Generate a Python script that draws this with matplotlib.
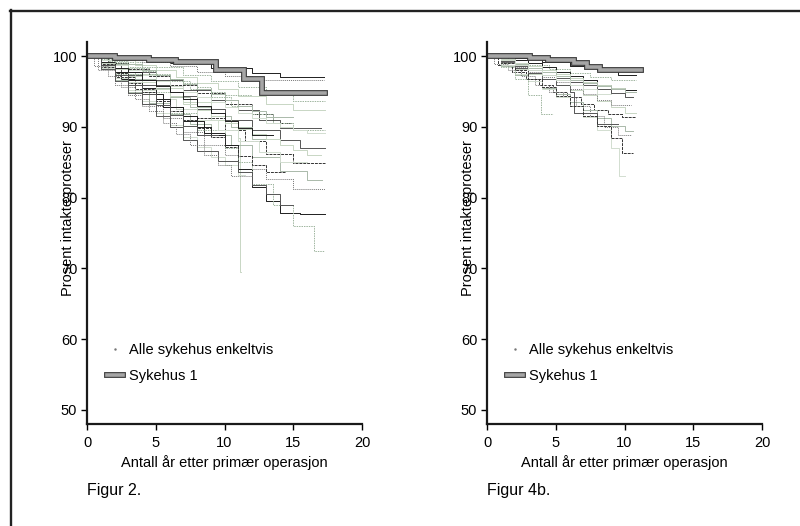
import matplotlib.pyplot as plt
import matplotlib.patheffects as pe
from matplotlib.lines import Line2D

plt.rcParams['font.family'] = ['Liberation Sans', 'DejaVu Sans']

# Figur 2: alle sykehus enkeltvis (start-tider for hvert trinn, overlevelse, slutt-tid)
left_times = [
    [0, 3, 6, 9, 12, 14],
    [0, 2, 4, 7, 9, 11, 13, 15],
    [0, 1.5, 3, 5, 7, 9, 11, 12.5, 14],
    [0, 1.5, 3, 5, 7, 9, 11, 11.1],
    [0, 1, 2, 3.5, 5, 6.5, 8, 10, 11.5, 13, 15],
    [0, 1, 2, 3, 4.5, 6, 7.5, 9, 10.5, 12, 14, 16],
    [0, 0.8, 2, 3, 4, 5.5, 7, 8.5, 10, 11, 13, 15],
    [0, 1, 2, 3, 4, 5, 6, 7, 8, 9, 10, 11],
    [0, 1, 2.5, 4, 5.5, 7, 8.5, 10, 11, 12, 13, 14, 15.5],
    [0, 1, 2, 4, 6, 8, 10, 11, 12, 13.5, 15, 16.5],
    [0, 1, 2.5, 4, 6, 8, 10, 12, 14, 15.5],
    [0, 2, 3.5, 5, 6.5, 8, 9.5, 11, 13, 15],
    [0, 1.5, 3, 4.5, 6, 8, 10, 12, 13.5],
    [0, 1, 2, 3.5, 5, 6, 7.5, 9, 10.5, 12],
    [0, 2, 4, 6, 8, 10, 12],
    [0, 1, 2, 3, 4, 5, 6.5, 8, 9.5, 11, 12.5, 14],
    [0, 1, 2, 3, 4, 5, 6, 7, 8, 9, 10],
    [0, 1.5, 3, 4.5, 6, 7.5, 9, 10.5, 12, 13.5, 15],
    [0, 1, 2, 3, 4, 5, 6, 7, 8, 9.5, 11, 12, 13, 14],
    [0, 1, 2, 3, 4, 5, 6, 7, 8, 9, 10, 11, 12, 13, 14, 15, 16],
    [0, 1, 2, 3, 4, 5, 6, 7, 8, 9, 10, 11, 12, 13],
    [0, 1, 2, 4, 5, 6, 7, 8, 9, 10, 11, 12, 13],
    [0, 0.5, 1.5, 2.5, 3.5, 4.5, 5.5, 6.5, 7.5, 8.5, 9.5, 10.5],
    [0, 1, 2, 3, 4, 5, 6, 7, 8, 9, 10, 11, 12, 13, 14, 15, 16],
    [0, 1, 2, 3, 4, 5, 6, 7, 8, 9, 10, 11, 12],
    [0, 1, 2, 3, 4, 5, 6, 7, 8, 9, 10],
    [0, 1, 2, 3, 4, 5, 6, 7, 8],
]
left_surv = [
    [100, 99.6, 99.0, 98.3, 97.6, 97.0],
    [100, 99.2, 98.5, 97.4, 96.5, 95.6, 94.6, 93.6],
    [100, 99.0, 97.8, 96.6, 95.2, 93.8, 92.4, 91.0, 89.8],
    [100, 98.9, 97.5, 95.5, 93.5, 91.0, 88.5, 69.5],
    [100, 98.5, 97.0, 95.4, 93.9, 92.5, 91.2, 89.6, 88.0, 86.2, 84.9],
    [100, 98.3, 96.6, 95.0, 93.4, 91.8, 90.4, 88.8, 87.4, 85.8, 83.8, 82.5],
    [100, 98.0, 96.0, 94.5, 93.0, 91.2, 89.3, 87.5, 86.0, 84.0, 82.6, 81.2],
    [100, 98.4, 96.9, 95.2, 93.6, 92.0, 90.3, 88.6, 87.2, 85.8, 84.6, 83.2],
    [100, 98.8, 96.8, 94.6, 92.8, 90.8, 89.2, 87.5, 84.0, 81.5, 79.5, 77.8, 77.7],
    [100, 99.0, 97.5, 95.0, 92.0, 89.5, 87.0, 85.0, 82.0, 79.0, 76.0, 72.5],
    [100, 98.8, 97.4, 96.0, 94.4, 92.6, 91.0, 89.5, 88.2, 87.0],
    [100, 99.4, 98.8, 98.0, 97.0, 96.2, 95.4, 94.4, 93.2, 92.4],
    [100, 99.0, 98.2, 97.2, 96.0, 94.8, 93.2, 91.8, 90.6],
    [100, 99.0, 97.8, 96.8, 95.5, 94.2, 92.8, 91.5, 90.0, 88.3],
    [100, 99.6, 99.2, 98.6, 97.8, 97.2, 96.6],
    [100, 98.6, 97.6, 96.3, 95.2, 94.0, 92.5, 91.0, 89.5, 88.0, 86.5, 85.0],
    [100, 98.8, 97.8, 96.7, 95.5, 94.0, 92.8, 91.5, 90.0, 88.8, 87.5],
    [100, 99.3, 98.4, 97.5, 96.5, 95.4, 94.3, 93.0, 91.8, 90.5, 89.6],
    [100, 98.2, 96.5, 94.8, 93.2, 91.6, 90.0, 88.2, 86.6, 85.2, 83.6, 81.8, 80.5, 79.0],
    [100, 99.1, 98.2, 97.2, 96.3, 95.3, 94.4, 93.3, 92.4, 91.5, 90.6, 89.7, 89.0, 88.3, 87.4, 86.8, 86.0],
    [100, 98.9, 97.6, 96.2, 95.0, 93.6, 92.2, 91.0, 89.8, 88.6, 87.2, 85.9, 84.6, 83.6],
    [100, 99.5, 98.9, 98.0, 97.4, 96.8, 96.1, 95.3, 94.6, 93.8, 93.0, 92.2, 91.4],
    [100, 98.6, 97.2, 95.6, 94.0, 92.3, 90.5, 89.0, 87.4, 86.0, 84.6, 83.0],
    [100, 99.4, 98.7, 98.0, 97.3, 96.5, 95.8, 95.0, 94.2, 93.5, 92.8, 92.0, 91.3, 90.6, 90.0, 89.6, 89.2],
    [100, 99.2, 98.4, 97.7, 96.7, 95.8, 94.9, 93.9, 92.9, 92.0, 90.8, 89.8, 88.8],
    [100, 99.6, 99.0, 98.5, 97.9, 97.4, 96.8, 96.2, 95.6, 95.0, 94.5],
    [100, 98.7, 97.3, 95.9, 94.6, 93.1, 91.7, 90.2, 88.9],
]
left_end = [17.2, 17.3, 17.0, 11.2, 17.3, 17.1, 17.3, 11.5, 17.3, 17.2, 17.3, 17.3,
            15.0, 13.5, 17.2, 16.0, 10.5, 17.3, 15.0, 17.0, 14.5, 15.0, 12.0,
            17.3, 13.5, 12.0, 9.5]

# Figur 2: Sykehus 1
left_syk1_times = [0, 2, 4.5, 6.5, 9.4, 11.4, 12.7]
left_syk1_surv = [100, 99.8, 99.5, 99.2, 98.0, 96.8, 94.8]
left_syk1_end = 17.3

# Figur 4b: alle sykehus enkeltvis
right_times = [
    [0, 2, 4, 6, 8, 9.5],
    [0, 1.5, 3, 4.5, 6, 7.5, 9],
    [0, 1, 2, 3, 4, 5, 6, 7, 8, 9, 10],
    [0, 1, 2, 3, 4, 5, 6, 7, 8, 9, 10],
    [0, 0.8, 1.8, 2.8, 3.8, 4.8, 5.8, 6.8, 7.8, 8.8, 9.8],
    [0, 1, 2, 3, 4, 5, 6, 7, 8, 9, 10],
    [0, 0.5, 1.5, 2.5, 3.5, 4.5, 5.5, 6.5, 7.5, 8.5, 9.5],
    [0, 1, 2, 3, 4, 5, 6, 7, 8, 9, 9.6],
    [0, 2, 3, 4, 5, 6, 7, 8, 9, 10],
    [0, 1, 2, 3, 3.9],
    [0, 1, 2, 3, 4, 5, 6, 6.3, 8],
    [0, 1, 2, 3, 4, 5, 6, 7, 8, 9, 10],
    [0, 1, 2, 3, 4, 5, 6, 7, 8, 9, 9.8],
    [0, 1, 2, 3, 4, 5, 6, 7, 8, 9, 10],
    [0, 1, 2, 3, 4, 5, 6, 7, 8, 9],
    [0, 1, 2, 3, 4, 5, 6, 7, 8],
]
right_surv = [
    [100, 99.7, 99.2, 98.6, 98.0, 97.4],
    [100, 99.4, 98.8, 98.2, 97.6, 97.0, 96.6],
    [100, 99.3, 98.6, 98.0, 97.4, 96.9, 96.4, 95.9, 95.4, 94.8, 94.3],
    [100, 99.0, 98.2, 97.5, 96.8, 96.0, 95.2, 94.5, 93.6, 92.8, 92.0],
    [100, 98.8, 97.8, 96.8, 96.0, 95.0, 94.2, 93.2, 92.4, 91.8, 91.4],
    [100, 98.6, 97.4, 96.5, 95.5, 94.6, 93.5, 92.4, 91.2, 90.2, 89.4],
    [100, 98.9, 98.0, 97.2, 96.0, 95.0, 94.2, 93.0, 91.5, 90.0, 88.8],
    [100, 98.8, 97.5, 96.5, 95.4, 94.2, 93.0, 91.4, 89.5, 87.0, 83.0],
    [100, 99.5, 99.0, 98.5, 97.8, 97.2, 96.6, 96.0, 95.5, 95.2],
    [100, 98.5, 96.8, 94.5, 91.9],
    [100, 99.2, 98.4, 97.6, 96.8, 95.9, 95.0, 92.0, 90.4],
    [100, 99.6, 99.1, 98.6, 98.0, 97.5, 96.9, 96.4, 95.9, 95.5, 95.0],
    [100, 99.0, 98.0, 96.8, 95.6, 94.4, 93.0, 91.6, 90.2, 88.4, 86.3],
    [100, 99.5, 98.9, 98.3, 97.7, 97.2, 96.7, 96.2, 95.8, 95.3, 94.9],
    [100, 99.2, 98.5, 97.8, 97.0, 96.3, 95.4, 94.6, 93.8, 93.1],
    [100, 99.4, 98.7, 98.0, 97.4, 96.6, 96.0, 95.3, 94.7],
]
right_end = [10.8, 10.8, 10.6, 10.8, 10.8, 10.6, 10.5, 10.0, 10.8, 4.8, 9.5, 10.8, 10.6,
             10.8, 10.5, 9.0]

# Figur 4b: Sykehus 1
right_syk1_times = [0, 3.1, 4.4, 6.3, 7.3, 8.2]
right_syk1_surv = [100, 99.8, 99.5, 99.0, 98.5, 98.0]
right_syk1_end = 11.2

colors = ['#1e1e1e', '#9fb59f', '#555555', '#c8d6c4', '#333333', '#aab9aa', '#777777', '#d2ddd0']
styles = ['-', (0, (1.5, 1)), '-', '-', (0, (3, 1)), '-', (0, (1, 1)), '-']

fig = plt.figure(figsize=(8, 5.26), dpi=100)

# ramme rundt figurene
fig.add_artist(Line2D([11 / 800, 11 / 800], [0, 1 - 10 / 526], color='#222222', lw=1.7))
fig.add_artist(Line2D([10 / 800, 1], [1 - 11 / 526, 1 - 11 / 526], color='#222222', lw=1.7))

syk1_fx = [pe.Stroke(linewidth=4.2, foreground='#3a3a3a'), pe.Normal()]


def draw_panel(left, times, surv, ends, s_times, s_surv, s_end, caption):
    ax = fig.add_axes([left, 0.194, 0.34375, 0.726])
    for i, (t, s, e) in enumerate(zip(times, surv, ends)):
        ax.step(t + [e], s + [s[-1]], where='post', color=colors[i % len(colors)],
                ls=styles[i % len(styles)], lw=0.7)
    ax.step(s_times + [s_end], s_surv + [s_surv[-1]], where='post', color='#a6a6a6',
            lw=2.6, path_effects=syk1_fx, solid_joinstyle='miter')

    ax.set_xlim(0, 20)
    ax.set_ylim(48, 102)
    ax.set_xticks([0, 5, 10, 15, 20])
    ax.set_yticks([50, 60, 70, 80, 90, 100])
    for side in ['top', 'right']:
        ax.spines[side].set_visible(False)
    for side in ['left', 'bottom']:
        ax.spines[side].set_linewidth(1.6)
        ax.spines[side].set_color('#1a1a1a')
    ax.tick_params(direction='out', length=4, width=1, labelsize=10.5, pad=3)
    ax.tick_params(axis='x', pad=5)
    ax.set_xlabel('Antall år etter primær operasjon', fontsize=10.5, labelpad=3)
    ax.set_ylabel('Prosent intakte proteser', fontsize=10.5)
    ax.yaxis.set_label_coords(-0.042, 0.54)

    handles = [Line2D([], [], ls='none', marker='.', markersize=1.5, color='#777777'),
               Line2D([], [], color='#a6a6a6', lw=2.6, path_effects=syk1_fx)]
    ax.legend(handles, ['Alle sykehus enkeltvis', 'Sykehus 1'], loc='center left',
              bbox_to_anchor=(0.045, 0.16), frameon=False, fontsize=10.5, borderpad=0,
              handlelength=1.1, handletextpad=0.4, labelspacing=0.85)
    fig.text(left, 0.068, caption, fontsize=11.5, va='center', ha='left')
    return ax


draw_panel(0.10875, left_times, left_surv, left_end,
           left_syk1_times, left_syk1_surv, left_syk1_end, 'Figur 2.')
draw_panel(0.60875, right_times, right_surv, right_end,
           right_syk1_times, right_syk1_surv, right_syk1_end, 'Figur 4b.')

plt.savefig('out.png', dpi=100)
